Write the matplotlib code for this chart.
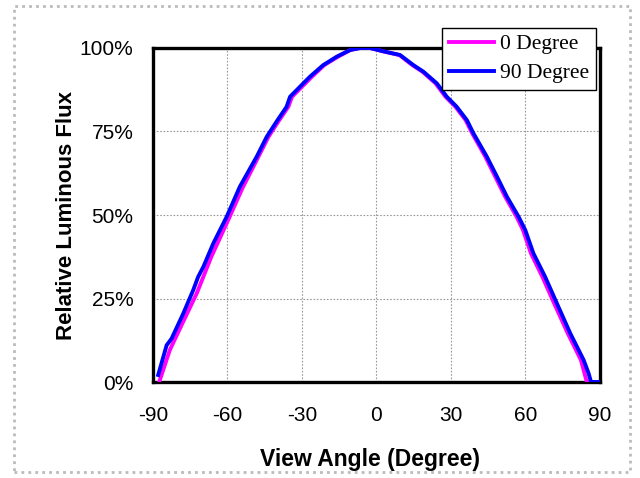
import numpy as np
import matplotlib
matplotlib.use("Agg")
import matplotlib.pyplot as plt
from matplotlib.patches import Rectangle
from matplotlib.ticker import FuncFormatter

# 90 Degree curve (blue)
angle_90 = [-87.9, -84.5, -82.5, -77.8, -73.8, -71.8, -69.7, -65.7, -60.3, -55, -48.2, -44.2,
            -40.2, -36.2, -34.8, -30.8, -26.8, -21.4, -16, -10.6, -6.6, -2.6, 2.8, 9.5, 14.8,
            18.9, 24.3, 28.3, 32.3, 36.4, 39.0, 44.4, 48.5, 52.5, 57.2, 59.9, 63.2, 67.9,
            72.6, 78, 83.4, 85.4, 86.4, 90]
flux_90 = [2.1, 11, 13, 20.5, 27.5, 31.5, 34.5, 41.5, 49.5, 58.5, 67.5, 73.4,
           78, 82.4, 85.4, 88.4, 91.4, 94.9, 97.4, 99.4, 100, 100, 99, 97.9, 94.9,
           92.9, 89.4, 85.4, 82.4, 78.4, 74.5, 67.5, 61.5, 55.5, 49.5, 45.5, 38.5, 31.5,
           23.6, 14.6, 6.6, 2.6, 0, 0]

# 0 Degree curve (magenta)
angle_0 = [-87.5, -83.2, -78.5, -72.4, -66.5, -59.7, -54, -47.5, -43.5, -39.5, -35.5, -34,
           -30, -26, -21, -15.5, -10.5, -6.6, -2.6, 2.6, 9.2, 14.4, 18.5, 23.8, 27.8,
           31.8, 35.9, 38.5, 43.8, 47.8, 51.8, 56.4, 59, 62.2, 66.8, 71.5, 77, 82.3,
           84.7, 90]
flux_0 = [0, 9.6, 17, 26.5, 37.5, 48.5, 58, 67.5, 73.4, 78, 82.4, 85.4,
          88.4, 91.4, 94.9, 97.4, 99.4, 100, 100, 99, 97.9, 94.9, 92.9, 89.4, 85.4,
          82.4, 78.4, 74.5, 67.5, 61.5, 55.5, 49.5, 45.5, 38.5, 31.5, 23.6, 14.6, 6.6,
          0, 0]

xticks = [-90, -60, -30, 0, 30, 60, 90]
yticks = [0, 25, 50, 75, 100]

plt.rcParams['font.family'] = ['Liberation Sans', 'DejaVu Sans']
plt.rcParams['axes.unicode_minus'] = False

fig = plt.figure(figsize=(6.4, 4.78), dpi=100)
ax = fig.add_axes([0.239, 0.2008, 0.6985, 0.6988])

ax.plot(angle_0, flux_0, color='#ff00ff', lw=2.8, label='0 Degree', zorder=3)
ax.plot(angle_90, flux_90, color='#0000ff', lw=2.8, label='90 Degree', zorder=4)

ax.set_xlim(-90, 90)
ax.set_ylim(0, 100)
ax.set_xticks(xticks)
ax.set_yticks(yticks)
ax.yaxis.set_major_formatter(FuncFormatter(lambda v, p: f"{int(v)}%"))
ax.tick_params(length=0, labelsize=15, pad=14)
ax.tick_params(axis='x', pad=17)
ax.grid(True, color='#999999', linestyle=(0, (1.5, 1.5)), lw=0.8)
ax.set_axisbelow(True)
for s in ax.spines.values():
    s.set_linewidth(2.4)
    s.set_color('black')

ax.set_xlabel('View Angle (Degree)', fontsize=16.5, fontweight='bold', labelpad=17,
              x=(370 - 153) / 447)
ax.set_ylabel('Relative Luminous Flux', fontsize=16, fontweight='bold', labelpad=2)

leg = ax.legend(loc='upper right', bbox_to_anchor=(0.991, 1.06), frameon=True, fancybox=False,
                edgecolor='black', framealpha=1, handlelength=2.1, borderpad=0.3,
                labelspacing=0.4, handletextpad=0.3, borderaxespad=0,
                prop={'family': 'Liberation Serif', 'size': 15.5})
leg.get_frame().set_linewidth(1.0)
leg.set_zorder(10)

fig.patches.append(Rectangle((14 / 640, 1 - 472 / 478), 616 / 640, 466 / 478,
                             transform=fig.transFigure, fill=False,
                             edgecolor='#bbbbbb', lw=2, linestyle=(0, (1, 1.5))))

fig.savefig('out.png', dpi=100)
